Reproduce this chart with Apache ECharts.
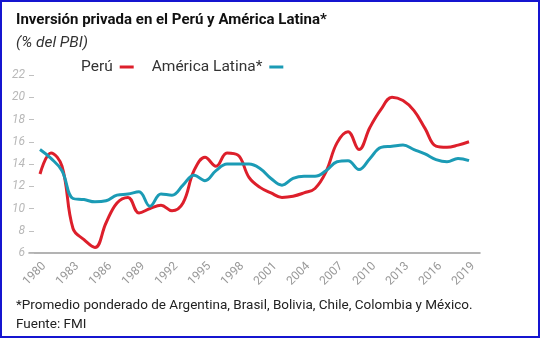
<!DOCTYPE html>
<html>
<head>
<meta charset="utf-8">
<script src="https://cdn.jsdelivr.net/npm/echarts@6/dist/echarts.min.js"></script>
<style>
html,body{margin:0;padding:0;background:#fff;}
#frame{position:absolute;left:0;top:0;width:540px;height:338px;box-sizing:border-box;border:2px solid #1515d0;}
#chart{position:absolute;left:0;top:0;width:540px;height:338px;}
</style>
</head>
<body>
<div id="chart"></div>
<div id="frame"></div>
<script>
// Axis categories (padding years at each end carry no data)
const years = [];
for (let y = 1979; y <= 2020; y++) years.push(String(y));
const yTicks = [6, 8, 10, 12, 14, 16, 18, 20, 22];

// Perú, 1980-2019 (% del PBI)
const peru = [13.1, 15.0, 13.8, 8.2, 7.2, 6.5, 8.7, 10.5, 11.0, 9.6,
              10.0, 10.3, 9.8, 10.5, 13.4, 14.6, 13.8, 15.0, 14.8, 12.8,
              11.9, 11.4, 11.0, 11.1, 11.4, 11.8, 13.3, 15.9, 16.9, 15.3,
              17.3, 18.9, 20.0, 19.7, 18.8, 17.2, 15.6, 15.5, 15.7, 16.0];
// América Latina, 1980-2019 (% del PBI)
const latam = [15.3, 14.5, 13.4, 10.9, 10.8, 10.6, 10.7, 11.2, 11.3, 11.5,
               10.2, 11.3, 11.2, 12.1, 13.0, 12.5, 13.4, 14.0, 14.0, 14.0,
               13.6, 12.7, 12.1, 12.7, 12.9, 12.9, 13.4, 14.2, 14.3, 13.5,
               14.5, 15.5, 15.6, 15.7, 15.3, 14.9, 14.4, 14.2, 14.5, 14.3];

const pad = (arr) => [null].concat(arr, [null]);

const chart = echarts.init(document.getElementById('chart'), null, {renderer: 'canvas'});
chart.setOption({
  animation: false,
  backgroundColor: '#fff',
  title: [
    {text: 'Inversión privada en el Perú y América Latina*', left: 11, top: 8,
     textStyle: {fontFamily: 'Roboto', fontWeight: 'bold', fontSize: 15, color: '#111'}},
    {text: '(% del PBI)', left: 11, top: 30,
     textStyle: {fontFamily: 'Roboto', fontStyle: 'italic', fontWeight: 'normal', fontSize: 15.5, color: '#333'}},
    {text: '*Promedio ponderado de Argentina, Brasil, Bolivia, Chile, Colombia y México.', left: 11, top: 294,
     textStyle: {fontFamily: 'Roboto', fontWeight: 'normal', fontSize: 13.5, color: '#222'}},
    {text: 'Fuente: FMI', left: 11, top: 313,
     textStyle: {fontFamily: 'Roboto', fontWeight: 'normal', fontSize: 13.5, color: '#222'}}
  ],
  legend: {
    left: 81, top: 59, padding: 0, align: 'right', icon: 'rect', itemWidth: 14, itemHeight: 3, itemGap: 18,
    textStyle: {fontFamily: 'Roboto', fontSize: 15.5, color: '#333', padding: [0, 2, 0, 0]},
    data: ['Perú', 'América Latina*']
  },
  grid: {left: 29, right: 60, top: 75, bottom: 85, containLabel: false},
  xAxis: {
    type: 'category', data: years, boundaryGap: false,
    axisLine: {lineStyle: {color: '#9a9a9a', width: 1.5}},
    axisTick: {show: false},
    axisLabel: {
      rotate: 45, fontFamily: 'Roboto', fontSize: 12, color: '#999', margin: 7, verticalAlign: 'top',
      interval: (i, v) => (+v >= 1980 && +v <= 2019 && (+v - 1980) % 3 === 0)
    },
    splitLine: {show: false}
  },
  yAxis: {
    type: 'value', min: yTicks[0], max: yTicks[yTicks.length - 1], interval: 2,
    axisLine: {show: false},
    axisTick: {show: true, inside: true, length: 5, lineStyle: {color: '#c0c0c0'}},
    axisLabel: {fontFamily: 'Roboto', fontStyle: 'italic', fontSize: 12, color: '#b8b8b8', margin: 4},
    splitLine: {show: false}
  },
  series: [
    {name: 'Perú', type: 'line', data: pad(peru), smooth: 0.4, symbol: 'none',
     itemStyle: {color: '#dd1f2b'}, lineStyle: {color: '#dd1f2b', width: 3}},
    {name: 'América Latina*', type: 'line', data: pad(latam), smooth: 0.4, symbol: 'none',
     itemStyle: {color: '#1b9bb5'}, lineStyle: {color: '#1b9bb5', width: 3}}
  ]
});
</script>
</body>
</html>
